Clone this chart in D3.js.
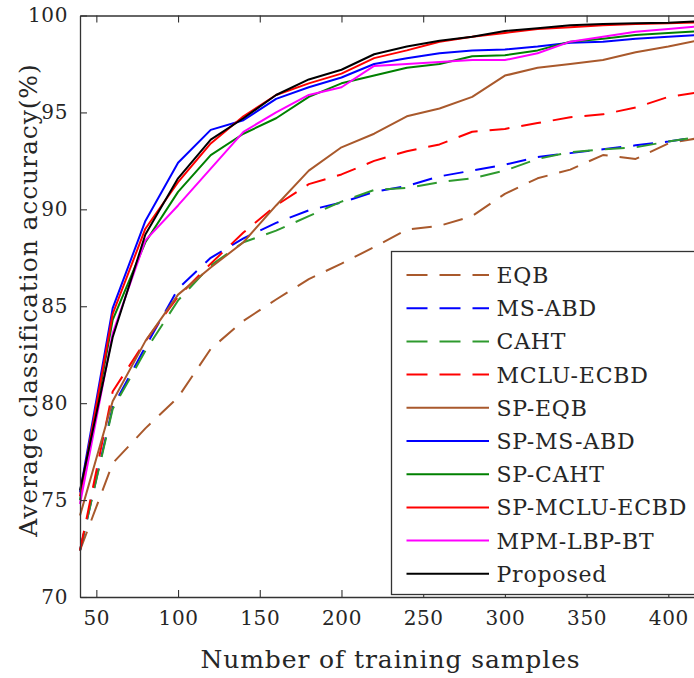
<!DOCTYPE html>
<html>
<head>
<meta charset="utf-8">
<script src="https://cdn.jsdelivr.net/npm/d3@7"></script>
<style>
  body { margin: 0; background: #fff; }
  svg text { font-family: "DejaVu Serif", serif; fill: #262626; }
</style>
</head>
<body>
<div id="chart"></div>
<script>
// training set sizes
var samples = [40, 60, 80, 100, 120, 140, 160, 180, 200, 220, 240, 260, 280, 300, 320, 340, 360, 380, 400, 420];

var eqb      = [72.4, 76.9, 78.7, 80.3, 82.8, 84.25, 85.35, 86.4, 87.2, 88.05, 88.95, 89.15, 89.65, 90.8, 91.6, 92.05, 92.8, 92.6, 93.4, 93.7];
var msAbd    = [72.4, 79.8, 82.9, 85.9, 87.5, 88.5, 89.3, 89.95, 90.35, 90.9, 91.2, 91.7, 92.0, 92.3, 92.7, 92.9, 93.1, 93.3, 93.5, 93.75];
var caht     = [72.4, 79.7, 82.7, 85.3, 87.1, 88.3, 88.9, 89.65, 90.4, 91.0, 91.1, 91.4, 91.6, 92.0, 92.6, 92.95, 93.1, 93.2, 93.5, 93.75];
var mcluEcbd = [72.4, 80.6, 83.2, 85.5, 87.2, 88.8, 90.2, 91.3, 91.8, 92.5, 93.0, 93.35, 94.0, 94.15, 94.45, 94.75, 94.9, 95.25, 95.8, 96.05];
var spEqb    = [74.2, 80.1, 83.2, 85.6, 87.0, 88.3, 90.2, 92.0, 93.2, 93.9, 94.8, 95.2, 95.8, 96.9, 97.3, 97.5, 97.7, 98.1, 98.4, 98.75];
var spMsAbd  = [75.4, 84.9, 89.4, 92.4, 94.1, 94.6, 95.7, 96.3, 96.8, 97.5, 97.8, 98.05, 98.2, 98.25, 98.4, 98.6, 98.65, 98.8, 98.9, 99.0];
var spCaht   = [75.0, 84.3, 88.3, 90.9, 92.8, 93.9, 94.7, 95.8, 96.5, 96.9, 97.3, 97.5, 97.9, 97.95, 98.2, 98.65, 98.8, 99.0, 99.1, 99.2];
var spMclu   = [75.2, 84.6, 89.0, 91.4, 93.4, 94.8, 95.9, 96.5, 97.0, 97.8, 98.2, 98.65, 98.9, 99.1, 99.3, 99.4, 99.5, 99.56, 99.6, 99.65];
var mpmLbp   = [74.8, 83.6, 88.4, 90.2, 92.1, 94.0, 95.0, 95.9, 96.3, 97.4, 97.5, 97.6, 97.7, 97.7, 98.05, 98.65, 98.9, 99.16, 99.3, 99.45];
var proposed = [75.5, 83.4, 88.7, 91.6, 93.6, 94.7, 95.9, 96.7, 97.2, 98.0, 98.4, 98.7, 98.9, 99.2, 99.34, 99.5, 99.56, 99.6, 99.63, 99.7];

var names = ['EQB', 'MS-ABD', 'CAHT', 'MCLU-ECBD', 'SP-EQB', 'SP-MS-ABD', 'SP-CAHT', 'SP-MCLU-ECBD', 'MPM-LBP-BT', 'Proposed'];
var xTicks = [50, 100, 150, 200, 250, 300, 350, 400];
var yTicks = [70, 75, 80, 85, 90, 95, 100];

var seriesValues = [eqb, msAbd, caht, mcluEcbd, spEqb, spMsAbd, spCaht, spMclu, mpmLbp, proposed];
var colors = ['#a9592c', '#0000ff', '#2e9a2e', '#ff0000', '#a9592c', '#0000ff', '#008000', '#ff0000', '#ff00ff', '#000000'];
var dashed = [true, true, true, true, false, false, false, false, false, false];

function drawChart() {
	var width = 694, height = 678;
	var margin = { left: 80, top: 15.5, right: 701, bottom: 597 };

	var x = d3.scaleLinear().domain([40, 420]).range([margin.left, margin.right]);
	var y = d3.scaleLinear().domain([70, 100]).range([margin.bottom, margin.top]);

	var svg = d3.select('#chart').append('svg')
		.attr('width', width)
		.attr('height', height);

	svg.append('rect').attr('width', width).attr('height', height).attr('fill', '#fff');

	// lines, drawn in legend order
	var line = d3.line()
		.x(function (d) { return x(d[0]); })
		.y(function (d) { return y(d[1]); });

	seriesValues.forEach(function (vals, i) {
		var pts = samples.map(function (s, j) { return [s, vals[j]]; });
		svg.append('path')
			.datum(pts)
			.attr('fill', 'none')
			.attr('stroke', colors[i])
			.attr('stroke-width', 2)
			.attr('stroke-dasharray', dashed[i] ? '20,12' : null)
			.attr('stroke-linejoin', 'round')
			.attr('d', line);
	});

	// box axes, ticks pointing inward
	var axisColor = '#333';
	var gx = svg.append('g')
		.attr('transform', 'translate(0,' + margin.bottom + ')')
		.call(d3.axisBottom(x).tickValues(xTicks).tickSizeInner(-7).tickSizeOuter(0).tickPadding(14));
	var gxTop = svg.append('g')
		.attr('transform', 'translate(0,' + margin.top + ')')
		.call(d3.axisTop(x).tickValues(xTicks).tickSizeInner(-7).tickSizeOuter(0).tickFormat(''));
	var gy = svg.append('g')
		.attr('transform', 'translate(' + margin.left + ',0)')
		.call(d3.axisLeft(y).tickValues(yTicks).tickSizeInner(-7).tickSizeOuter(0).tickPadding(12));
	var gyRight = svg.append('g')
		.attr('transform', 'translate(' + margin.right + ',0)')
		.call(d3.axisRight(y).tickValues(yTicks).tickSizeInner(-7).tickSizeOuter(0).tickFormat(''));

	[gx, gxTop, gy, gyRight].forEach(function (g) {
		g.select('.domain').attr('stroke', axisColor).attr('stroke-width', 1.3);
		g.selectAll('.tick line').attr('stroke', axisColor).attr('stroke-width', 1.1);
		g.selectAll('.tick text')
			.attr('fill', '#262626')
			.style('font-family', '"DejaVu Serif", serif')
			.style('font-size', '20px')
			.style('letter-spacing', '0.6px');
	});

	// axis titles
	svg.append('text')
		.attr('x', (margin.left + margin.right) / 2)
		.attr('y', 668)
		.attr('text-anchor', 'middle')
		.style('font-size', '25px')
		.style('letter-spacing', '0.9px')
		.text('Number of training samples');

	svg.append('text')
		.attr('transform', 'translate(37,300) rotate(-90)')
		.attr('text-anchor', 'middle')
		.style('font-size', '25px')
		.style('letter-spacing', '0.9px')
		.text('Average classification accuracy(%)');

	// legend
	var legend = svg.append('g');
	legend.append('rect')
		.attr('x', 391.5).attr('y', 251.5)
		.attr('width', 330).attr('height', 343)
		.attr('fill', '#fff')
		.attr('stroke', axisColor)
		.attr('stroke-width', 1.3);

	names.forEach(function (name, i) {
		var cy = 275 + i * 33.2;
		legend.append('line')
			.attr('x1', 406.5).attr('x2', 489)
			.attr('y1', cy).attr('y2', cy)
			.attr('stroke', colors[i])
			.attr('stroke-width', 2)
			.attr('stroke-dasharray', dashed[i] ? '21,12' : null);
		legend.append('text')
			.attr('x', 496.5)
			.attr('y', cy)
			.attr('dy', '0.36em')
			.style('font-size', '22px')
			.style('letter-spacing', '0.8px')
			.text(name);
	});
}

drawChart();
</script>
</body>
</html>
